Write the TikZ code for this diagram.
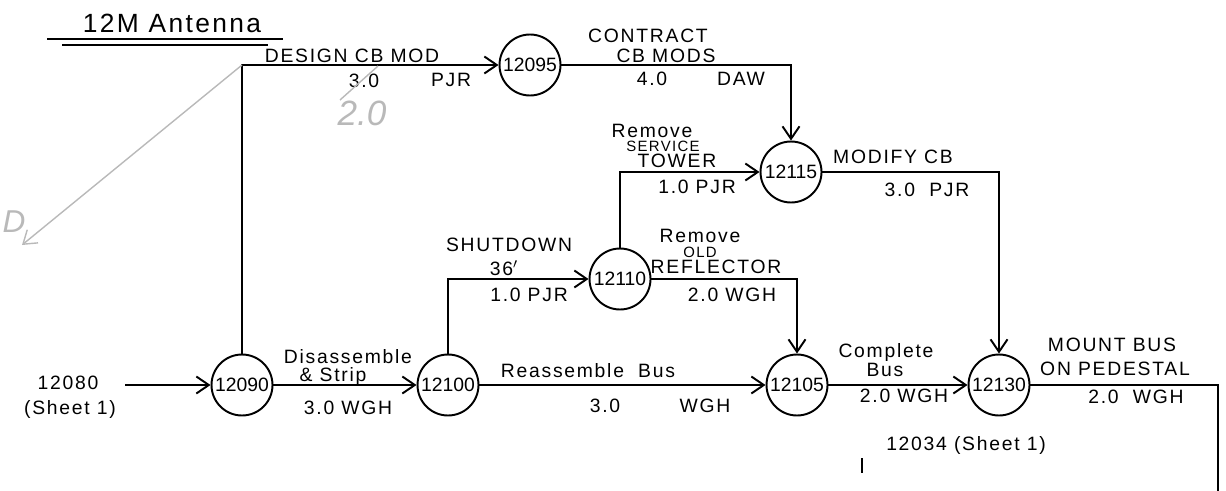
\documentclass[tikz,border=0pt]{standalone}
\usepackage{fontspec}
\setmainfont{Liberation Sans}
\newfontfamily\hand[LetterSpace=9]{Liberation Sans}
\usetikzlibrary{arrows.meta, positioning, calc}

\begin{document}
\begin{tikzpicture}[x=0.02cm, y=-0.02cm, line width=1.1pt,
  >={Straight Barb[length=2.5mm, width=3.4mm]},
  event/.style={circle, draw, minimum size=1.22cm, inner sep=0pt, font=\fontsize{11}{13}\selectfont},
  lbl/.style={inner sep=0pt, font=\hand\fontsize{11}{13}\selectfont},
  smalllbl/.style={inner sep=0pt, font=\hand\fontsize{8.5}{10}\selectfont},
  pencil/.style={gray!55, line width=0.8pt}]
  \useasboundingbox (0,0) rectangle (1226,490);

  % Title
  \node[lbl, font=\hand\fontsize{15}{17}\selectfont] (title) at (172,23) {12M Antenna};
  \draw (47,39) -- (283,39);
  \draw (62,45) -- (268,45);

  % Events
  \node[event] (n12090) at (242,385) {12090};
  \node[event] (n12095) at (530,65) {12095};
  \node[event] (n12100) at (448,385) {12100};
  \node[event] (n12110) at (620,279) {12110};
  \node[event] (n12115) at (791,172) {12115};
  \node[event] (n12105) at (797,385) {12105};
  \node[event] (n12130) at (999,385) {12130};

  % Incoming from sheet 1
  \node[lbl] (src) at (68,383) {12080};
  \node[lbl] (srcsheet) at (70,409) {(Sheet 1)};
  \coordinate (srcend) at (125,385);
  \draw[->] (srcend) -- (n12090.west);

  % Activities
  \coordinate (corner) at (n12090.north |- n12095.west);
  \draw[->] (n12090.north) -- (corner) -- (n12095.west);
  \draw[->] (n12095.east) -| (n12115.north);
  \draw[->] (n12090.east) -- (n12100.west);
  \draw[->] (n12100.north) |- (n12110.west);
  \draw[->] (n12110.north) |- (n12115.west);
  \draw[->] (n12110.east) -| (n12105.north);
  \draw[->] (n12100.east) -- (n12105.west);
  \draw[->] (n12115.east) -| (n12130.north);
  \draw[->] (n12105.east) -- (n12130.west);
  \coordinate (exit) at (1218,500);
  \draw (n12130.east) -| (exit);

  % Activity labels
  \node[lbl] (lDesign) at (352,56) {DESIGN CB MOD};
  \node[lbl] (lDesignT) at (364,81) {3.0};
  \node[lbl] (lDesignW) at (451,80) {PJR};

  \node[lbl] (lContract) at (648,36) {CONTRACT};
  \node[lbl] (lContractB) at (666,56) {CB MODS};
  \node[lbl] (lContractT) at (652,79) {4.0};
  \node[lbl] (lContractW) at (741,79) {DAW};

  \node[lbl] (lTower) at (652,131) {Remove};
  \node[smalllbl] (lTowerB) at (663,146) {SERVICE};
  \node[lbl] (lTowerC) at (677,161) {TOWER};
  \node[lbl] (lTowerT) at (697,187) {1.0 PJR};

  \node[lbl] (lModify) at (893,157) {MODIFY CB};
  \node[lbl] (lModifyT) at (927,190) {3.0 \ PJR};

  \node[lbl] (lShut) at (509,245) {SHUTDOWN};
  \node[lbl] (lShutB) at (504,268) {36$'$};
  \node[lbl] (lShutT) at (529,295) {1.0 PJR};

  \node[lbl] (lRefl) at (700,236) {Remove};
  \node[smalllbl] (lReflB) at (700,252) {OLD};
  \node[lbl] (lReflC) at (716,267) {REFLECTOR};
  \node[lbl] (lReflT) at (732,295) {2.0 WGH};

  \node[lbl] (lDis) at (348,357) {Disassemble};
  \node[lbl] (lDisB) at (333,376) {\& Strip};
  \node[lbl] (lDisT) at (348,408) {3.0 WGH};

  \node[lbl] (lReas) at (588,371) {Reassemble \ Bus};
  \node[lbl] (lReasT) at (605,406) {3.0};
  \node[lbl] (lReasW) at (705,406) {WGH};

  \node[lbl] (lComp) at (886,352) {Complete};
  \node[lbl] (lCompB) at (885,370) {Bus};
  \node[lbl] (lCompT) at (904,396) {2.0 WGH};

  \node[lbl] (lMount) at (1112,345) {MOUNT BUS};
  \node[lbl] (lMountB) at (1115,369) {ON PEDESTAL};
  \node[lbl] (lMountT) at (1136,397) {2.0 \ WGH};

  % Link to sheet 1
  \node[lbl] (sheetref) at (966,445) {12034 (Sheet 1)};
  \draw (862,458) -- (862,473);

  % Pencil corrections
  \draw[pencil] (340,100) -- (378,66);
  \node[pencil, inner sep=0pt, font=\fontsize{20}{22}\selectfont\itshape] (pencilT) at (362,113) {2.0};
  \coordinate (gtip) at (22,245);
  \draw[pencil, ->] (corner) -- (gtip);
  \node[pencil, inner sep=0pt, font=\fontsize{18}{20}\selectfont\itshape] (pencilD) at (14,222) {D};
\end{tikzpicture}
\end{document}
